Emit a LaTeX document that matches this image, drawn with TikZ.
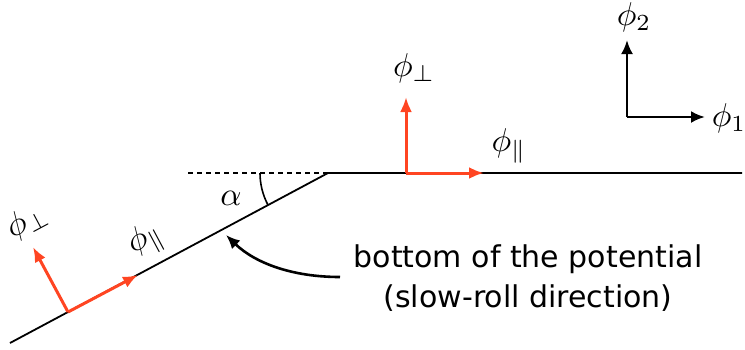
\documentclass[tikz,border=0pt]{standalone}
\usepackage{fontspec}
\setsansfont{DejaVu Sans}
\usetikzlibrary{arrows.meta}
\definecolor{myred}{HTML}{FF4522}
\newcommand{\mylbl}[1]{\scalebox{3.3}{$#1$}}
\tikzset{
  base line/.style={line width=1.8pt, black},
  redarrow/.style={line width=3pt, myred, -{Latex[length=15pt,width=12pt]}},
  axisarrow/.style={line width=2.6pt, black, -{Latex[length=14pt,width=12pt]}},
  mathlbl/.style={font=\normalsize, inner sep=0pt},
  txt/.style={font=\sffamily\fontsize{30}{36}\selectfont, inner sep=0pt, anchor=base}
}
\begin{document}
\begin{tikzpicture}[x=1pt, y=-1pt]
\useasboundingbox (0,0) rectangle (745,349);
% main valley line
\coordinate (A) at (10,343);
\coordinate (K) at (328,173);
\coordinate (E) at (742,173);
\coordinate (D) at (188,173);
\draw[base line] (A) -- (K) -- (E);
\draw[line width=1.6pt, dash pattern=on 5pt off 4pt] (D) -- (K);
% angle
\coordinate (ArcS) at (260,173);
\draw[line width=1.6pt] (ArcS) arc[start angle=180, end angle=208, radius=68pt];
\node[mathlbl] (alpha) at (231,198) {\mylbl{\alpha}};
% red arrows on horizontal part
\coordinate (O2) at (406,173);
\coordinate (P2) at (406,97);
\coordinate (Q2) at (484,173);
\draw[redarrow] (O2) -- (P2);
\draw[redarrow] (O2) -- (Q2);
\node[mathlbl] (perp2) at (414,68) {\mylbl{\phi_\perp}};
\node[mathlbl] (par2) at (509,146) {\mylbl{\phi_\parallel}};
% red arrows on slope
\coordinate (O1) at (68,312);
\coordinate (P1) at (33,247);
\coordinate (Q1) at (138,275);
\draw[redarrow] (O1) -- (P1);
\draw[redarrow] (O1) -- (Q1);
\node[mathlbl, rotate=28] (perp1) at (27,221) {\mylbl{\phi_\perp}};
\node[mathlbl, rotate=28] (par1) at (146,240) {\mylbl{\phi_\parallel}};
% axes
\coordinate (O3) at (627,117);
\coordinate (Y3) at (627,40);
\coordinate (X3) at (705,117);
\draw[axisarrow] (O3) -- (Y3);
\draw[axisarrow] (O3) -- (X3);
\node[mathlbl] (phi2) at (634,17) {\mylbl{\phi_2}};
\node[mathlbl] (phi1) at (729,118) {\mylbl{\phi_1}};
% text
\node[txt] (t1) at (528,267) {bottom of the potential};
\node[txt] (t2) at (528,307) {(slow-roll direction)};
% curved arrow
\coordinate (C0) at (340,277);
\coordinate (C1) at (226,235);
\draw[line width=2.6pt, -{Latex[length=14pt,width=12pt]}] (C0) .. controls (292,277) and (255,263) .. (C1);
\end{tikzpicture}
\end{document}
